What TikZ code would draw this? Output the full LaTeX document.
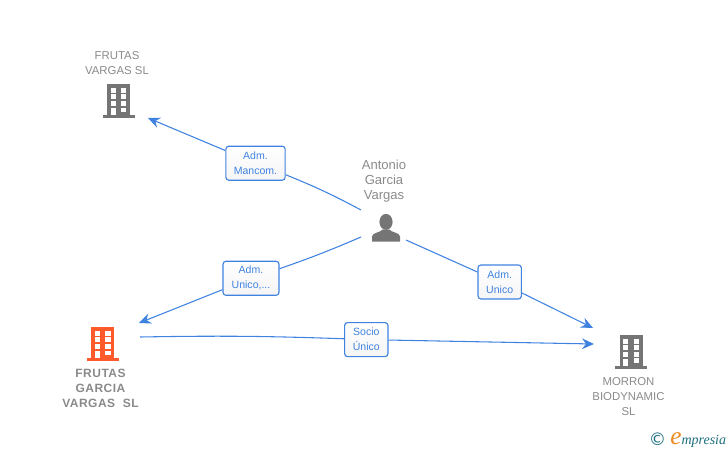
\documentclass[tikz,border=0pt]{standalone}
\usepackage{fontspec}
\setmainfont{Liberation Sans}
\newfontfamily\spacedbold[LetterSpace=4]{Liberation Sans Bold}
\newfontfamily\logofont{Liberation Serif}
\usetikzlibrary{arrows.meta,bending}
\definecolor{linkblue}{HTML}{3F82E0}
\definecolor{namegray}{HTML}{8A8A8A}
\definecolor{icongray}{HTML}{757575}
\definecolor{iconorange}{HTML}{FF5A2B}
\definecolor{logoteal}{HTML}{1F6F80}
\definecolor{logoorange}{HTML}{EE8A1E}
\tikzset{
    pics/buildingicon/.style={code={
        \fill[#1] (-11.5,0) rectangle (11.5,34);
        \fill[#1] (-16,0) rectangle (16,3);
        \foreach \wy in {24.7,18.7,12} {
            \fill[white] (-7.8,\wy) rectangle (-2.6,\wy+5);
            \fill[white] (2.6,\wy) rectangle (7.8,\wy+5);
        }
        \fill[white] (-7.8,3) rectangle (-3,10);
        \fill[white] (2.6,6) rectangle (7.8,10.4);
    }},
    pics/personicon/.style={code={
        \fill[icongray] (0,19.6) ellipse (6.6 and 8);
        \fill[icongray] (-14,0) -- (-14,5) .. controls (-14,9) and (-5,9) .. (-3.5,12)
            -- (3.5,12) .. controls (5,9) and (14,9) .. (14,5) -- (14,0) -- cycle;
    }},
    namelabel/.style={text=namegray, align=center, font=\fontsize{8.55}{11.25}\selectfont},
    personlabel/.style={text=namegray, align=center, font=\fontsize{9.8}{11.25}\selectfont},
    mainlabel/.style={text=namegray, align=center, font=\fontsize{9}{11.25}\spacedbold},
    rolebox/.style={draw=linkblue, line width=0.85pt, rounded corners=2.2pt, inner sep=0pt,
        top color=white, bottom color=white!96!black, text=linkblue, align=center,
        font=\fontsize{7.9}{11.25}\selectfont},
    link/.style={draw=linkblue, line width=0.8pt},
    linkarrow/.style={link, -{Stealth[length=9pt,width=8pt,inset=3pt]}}
}
\begin{document}
\begin{tikzpicture}[x=0.75pt, y=-0.75pt]
\useasboundingbox (0,0) rectangle (728,450);
% companies and person
\node[namelabel] (frutas) at (117,63) {FRUTAS\\VARGAS SL};
\pic[yscale=-1] at (118.5,118) {buildingicon=icongray};
\node[mainlabel] (garcia) at (100.5,388) {FRUTAS\\GARCIA\\VARGAS\ \ SL};
\pic[yscale=-1] at (102.8,361) {buildingicon=iconorange};
\node[namelabel] (morron) at (628.5,396.5) {MORRON\\BIODYNAMIC\\SL};
\pic[yscale=-1] at (631,368.7) {buildingicon=icongray};
\node[personlabel] (antonio) at (384,181.3) {Antonio\\Garcia\\Vargas};
\pic[yscale=-1] at (386,241.5) {personicon};
% role boxes
\node[rolebox, minimum width=44.5pt, minimum height=25.5pt] (mancom) at (255.5,163.2) {Adm.\\Mancom.};
\node[rolebox, minimum width=42pt, minimum height=25.5pt] (unicodots) at (251,278.3) {Adm.\\Unico,...};
\node[rolebox, minimum width=32.5pt, minimum height=25.5pt] (unico) at (499.7,282) {Adm.\\Unico};
\node[rolebox, minimum width=32.5pt, minimum height=25.5pt] (socio) at (366.3,339.6) {Socio\\Único};
% free ends of the connectors
\coordinate (antonioA) at (361,210);
\coordinate (antonioB) at (361,237);
\coordinate (antonioC) at (406,240);
\coordinate (garciaOut) at (140,337);
\coordinate (frutasIn) at (148,118);
\coordinate (garciaIn) at (139,323);
\coordinate (morronA) at (593,328);
\coordinate (morronB) at (594,344);
% connectors
\draw[link] (antonioA) to[bend right=3] (mancom);
\draw[linkarrow] (mancom) -- (frutasIn);
\draw[link] (antonioB) to[bend left=2] (unicodots);
\draw[linkarrow] (unicodots) -- (garciaIn);
\draw[link] (antonioC) -- (unico);
\draw[linkarrow] (unico) -- (morronA);
\draw[link] (garciaOut) to[bend left=1.5] (socio);
\draw[linkarrow] (socio) -- (morronB);
% logo
\node[text=logoteal, font=\fontsize{13}{13}\selectfont] (logoc) at (657.5,439) {\fontspec{DejaVu Sans}©};
\node[anchor=base west, inner sep=0pt] (logotext) at (670,444) {\logofont\itshape\fontsize{19}{19}\selectfont\textcolor{logoorange}{e}\fontsize{10.5}{12}\selectfont\textcolor{logoteal}{mpresia}};
\end{tikzpicture}
\end{document}
